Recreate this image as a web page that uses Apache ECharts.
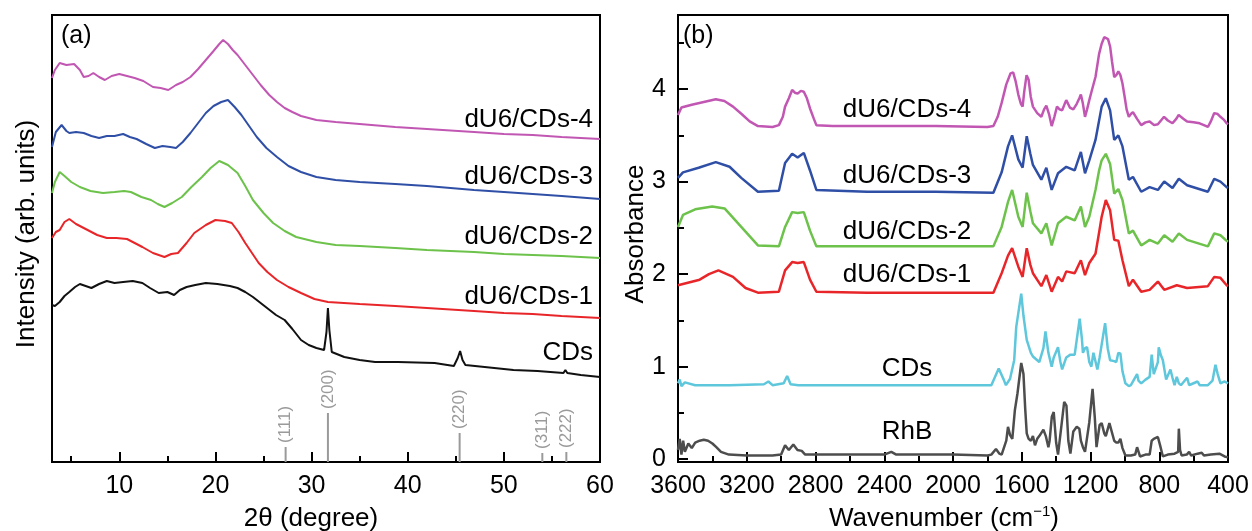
<!DOCTYPE html>
<html>
<head>
<meta charset="utf-8">
<script src="https://cdn.jsdelivr.net/npm/echarts@6/dist/echarts.min.js"></script>
<style>
  html, body { margin: 0; padding: 0; background: #fff; }
  #chart { width: 1252px; height: 531px; }
</style>
</head>
<body>
<div id="chart"></div>
<script>
// (a) XRD, intensity in arbitrary units, offset stacked
const xrdCDs = [[3,157],[3.3,156],[3.8,160],[4.3,166],[4.8,170],[5.4,175],[5.9,178],[6.5,176],[7.1,174],[7.9,178],[8.7,181],[9.5,179],[10.4,180],[11.4,181],[12.4,179],[13.2,174],[14.1,169],[15,170],[15.7,167],[16.3,172],[17,175],[17.9,177],[19,179],[20.2,178],[21.5,176],[22.3,174],[23.1,170],[23.9,165],[24.7,159],[25.5,153],[26.3,147],[27.2,142],[28,133],[28.9,122],[29.7,117],[30.5,114],[31.3,112],[31.55,130],[31.7,154],[31.85,132],[32.1,110],[33.4,105],[35,102],[36.6,100],[39,100],[42.8,99],[44.8,96],[45.2,104],[45.45,111],[45.7,102],[46,97],[48,95],[51,92],[53.5,91],[56.2,89],[56.4,92],[56.6,89],[58,87],[60,85]];
const xrd1 = [[3,224],[3.4,230],[3.8,232],[4.3,240],[4.8,243],[5.5,238],[6.7,232],[7.7,227],[8.7,224],[9.7,224],[10.8,223],[11.6,219],[12.4,215],[13.5,209],[14.7,205],[15.4,208],[16.1,209],[17,219],[17.8,229],[19,237],[20,242],[21,241],[21.7,239],[22.4,230],[23.1,219],[24.5,199],[25.4,190],[26.4,182],[27.6,175],[28.9,169],[30.3,163],[31.7,160],[35,158],[38.7,156],[42,154],[46.9,151],[50,149],[53,148],[56,146],[60,144]];
const xrd2 = [[3,269],[3.3,280],[3.8,290],[4.3,286],[5,280],[5.9,275],[7,271],[8.3,269],[9.5,270],[10.5,271],[11.2,270],[12.3,265],[13.3,262],[14,258],[14.7,255],[15.5,259],[16.5,265],[17.5,275],[18.6,285],[19.5,294],[20.4,301],[21.3,297],[22.3,289],[23.1,276],[23.9,262],[25,249],[26,239],[27.2,231],[28.4,225],[30.5,220],[32.5,217],[35,216],[38.7,214],[42,212],[46.9,210],[50,208],[53,207],[56,206],[60,204]];
const xrd3 = [[3,315],[3.4,330],[4,337],[4.5,331],[4.8,329],[5.5,330],[6.3,329],[7.1,326],[7.9,324],[8.7,326],[9.5,326],[10.4,328],[11.1,325],[11.8,323],[12.8,318],[13.7,314],[14.5,316],[15.3,315],[15.9,314],[16.6,320],[17.4,329],[18.2,339],[19,349],[19.8,356],[20.6,360],[21.3,362],[22,355],[22.7,347],[23.5,336],[24.3,325],[25.3,314],[26.4,305],[27.6,296],[28.9,290],[30.5,285],[32.5,282],[35,280],[38.7,278],[42,276],[46.9,272],[50,270],[53,268],[56,266],[60,263]];
const xrd4 = [[3,384],[3.3,392],[3.8,399],[4.5,397],[5.3,398],[5.9,392],[6.3,385],[6.8,386],[7.3,389],[7.9,385],[8.5,382],[9.2,386],[10,388],[10.8,386],[11.6,384],[12.5,381],[13.5,375],[14.3,374],[15.1,372],[15.9,377],[16.6,380],[17.4,385],[18.2,393],[19,402],[19.8,411],[20.4,418],[20.8,422],[21.3,418],[21.8,412],[22.3,407],[23.1,397],[23.9,387],[24.7,377],[25.6,367],[26.4,360],[27.2,354],[28,350],[28.9,346],[30.5,342],[32.5,340],[35,338],[38.7,335],[42,333],[46.9,330],[50,328],[53,327],[56,325],[60,323]];

// reference reflections (gray sticks)
const refPos = [27.3, 31.7, 45.4, 54.0, 56.5];
const refHeight = [15, 49, 29, 9, 10];
const refLabels = ['(111)', '(200)', '(220)', '(311)', '(222)'];

const xrdMajorTicks = [10, 20, 30, 40, 50, 60];
const xrdMinorTicks = [5, 15, 25, 35, 45, 55];

// (b) FTIR absorbance
const ftirRhB = [[3600,0.10],[3590,0.22],[3580,0.05],[3570,0.20],[3560,0.08],[3540,0.17],[3520,0.12],[3500,0.18],[3474,0.20],[3450,0.21],[3425,0.20],[3400,0.17],[3377,0.13],[3350,0.08],[3304,0.05],[3200,0.04],[3050,0.04],[3000,0.05],[2977,0.15],[2955,0.10],[2929,0.16],[2905,0.10],[2880,0.09],[2860,0.05],[2800,0.05],[2400,0.05],[2359,0.08],[2330,0.05],[2000,0.05],[1800,0.04],[1777,0.05],[1750,0.11],[1730,0.06],[1717,0.05],[1690,0.20],[1680,0.35],[1668,0.26],[1655,0.22],[1640,0.53],[1625,0.71],[1603,1.04],[1590,0.92],[1580,0.55],[1571,0.28],[1560,0.22],[1547,0.20],[1535,0.25],[1523,0.15],[1510,0.22],[1498,0.25],[1474,0.32],[1460,0.25],[1445,0.13],[1438,0.20],[1425,0.46],[1414,0.51],[1400,0.18],[1389,0.05],[1370,0.35],[1353,0.62],[1340,0.58],[1329,0.20],[1317,0.06],[1300,0.30],[1280,0.35],[1265,0.33],[1256,0.20],[1244,0.13],[1232,0.08],[1207,0.40],[1188,0.76],[1175,0.45],[1165,0.13],[1159,0.14],[1147,0.37],[1135,0.39],[1120,0.28],[1111,0.25],[1090,0.39],[1079,0.37],[1062,0.20],[1050,0.18],[1038,0.18],[1026,0.22],[1014,0.12],[997,0.04],[965,0.04],[940,0.05],[929,0.13],[912,0.03],[880,0.05],[856,0.05],[844,0.20],[832,0.22],[820,0.23],[808,0.24],[795,0.15],[779,0.03],[750,0.05],[711,0.06],[690,0.08],[686,0.33],[679,0.10],[670,0.04],[640,0.05],[626,0.08],[614,0.04],[577,0.06],[553,0.07],[540,0.04],[500,0.05],[450,0.06],[420,0.03],[400,0.02]];
const ftirCDs = [[3600,0.82],[3590,0.86],[3580,0.79],[3560,0.83],[3500,0.80],[3300,0.80],[3100,0.81],[3074,0.84],[3050,0.80],[2985,0.82],[2965,0.90],[2945,0.81],[2900,0.80],[2500,0.80],[2100,0.80],[1777,0.80],[1734,0.98],[1705,0.86],[1692,0.80],[1668,0.87],[1644,1.07],[1632,1.43],[1603,1.79],[1590,1.55],[1571,1.29],[1547,1.15],[1535,1.11],[1498,1.05],[1474,1.20],[1462,1.38],[1445,1.15],[1426,1.00],[1414,1.10],[1389,1.21],[1375,1.05],[1365,0.97],[1341,1.10],[1317,1.13],[1292,1.13],[1263,1.52],[1250,1.30],[1244,1.15],[1232,1.20],[1220,1.21],[1207,1.05],[1195,1.00],[1183,1.15],[1160,0.97],[1147,1.10],[1115,1.47],[1100,1.20],[1086,1.07],[1062,1.06],[1050,1.05],[1038,1.15],[1026,1.14],[1014,0.95],[997,0.82],[977,0.79],[965,0.80],[929,0.92],[921,0.85],[905,0.82],[880,0.86],[856,0.89],[844,1.13],[832,0.92],[808,1.05],[803,1.21],[790,1.12],[779,1.07],[760,0.86],[735,0.97],[723,0.88],[711,0.80],[698,0.89],[686,0.82],[674,0.80],[638,0.88],[626,0.80],[614,0.81],[577,0.84],[565,0.80],[517,0.80],[490,0.85],[473,1.02],[460,0.92],[444,0.82],[420,0.84],[400,0.82]];
const ftir1 = [[3600,1.88],[3474,1.94],[3420,2.00],[3365,2.04],[3280,1.97],[3207,1.85],[3135,1.80],[3013,1.81],[2977,2.04],[2936,2.13],[2904,2.12],[2868,2.13],[2832,1.94],[2795,1.81],[2500,1.80],[2100,1.80],[1765,1.80],[1717,2.01],[1680,2.20],[1656,2.28],[1620,2.08],[1595,1.97],[1571,2.28],[1550,2.10],[1535,2.01],[1486,1.87],[1457,1.99],[1426,1.81],[1389,1.97],[1365,1.92],[1341,2.03],[1292,2.01],[1256,2.15],[1232,1.99],[1207,2.12],[1171,2.22],[1150,2.45],[1135,2.62],[1111,2.80],[1086,2.69],[1062,2.37],[1038,2.36],[1014,2.15],[977,1.87],[953,1.94],[905,1.81],[856,1.83],[808,1.92],[771,1.83],[698,1.88],[638,1.85],[517,1.87],[480,1.97],[444,1.96],[408,1.88],[400,1.87]];
const ftir2 = [[3600,2.51],[3571,2.64],[3500,2.70],[3401,2.73],[3329,2.71],[3232,2.51],[3135,2.31],[3013,2.30],[2977,2.51],[2936,2.67],[2904,2.66],[2868,2.67],[2832,2.47],[2795,2.30],[2500,2.30],[2100,2.30],[1765,2.30],[1717,2.51],[1680,2.78],[1656,2.91],[1620,2.62],[1595,2.51],[1571,2.88],[1550,2.68],[1535,2.55],[1486,2.44],[1457,2.55],[1426,2.31],[1389,2.55],[1341,2.62],[1292,2.58],[1256,2.73],[1232,2.51],[1207,2.62],[1171,2.91],[1150,3.12],[1135,3.23],[1111,3.30],[1086,3.19],[1062,2.87],[1038,2.92],[1014,2.80],[977,2.44],[953,2.47],[905,2.31],[856,2.37],[808,2.33],[771,2.42],[723,2.35],[686,2.44],[638,2.37],[517,2.30],[480,2.44],[444,2.42],[408,2.36],[400,2.35]];
const ftir3 = [[3600,3.04],[3571,3.10],[3480,3.15],[3380,3.21],[3300,3.16],[3232,3.04],[3135,2.89],[3013,2.90],[2977,3.20],[2936,3.30],[2904,3.26],[2868,3.31],[2832,3.12],[2795,2.91],[2500,2.89],[2100,2.89],[1765,2.88],[1717,3.10],[1680,3.38],[1656,3.50],[1620,3.24],[1595,3.15],[1571,3.49],[1550,3.30],[1535,3.18],[1486,3.02],[1457,3.15],[1426,2.91],[1389,3.09],[1341,3.16],[1292,3.12],[1256,3.32],[1232,3.09],[1207,3.23],[1171,3.45],[1135,3.81],[1111,3.90],[1086,3.77],[1062,3.45],[1038,3.50],[1014,3.38],[977,3.02],[953,3.05],[905,2.89],[856,2.94],[808,2.91],[771,3.00],[723,2.93],[686,3.03],[638,2.96],[517,2.89],[480,3.03],[444,3.00],[408,2.94],[400,2.93]];
const ftir4 = [[3600,3.72],[3580,3.80],[3520,3.83],[3450,3.86],[3380,3.89],[3330,3.87],[3280,3.81],[3230,3.73],[3183,3.65],[3135,3.60],[3050,3.59],[3013,3.61],[2990,3.70],[2977,3.81],[2955,3.90],[2936,3.99],[2920,3.96],[2904,3.95],[2885,3.98],[2868,3.97],[2850,3.90],[2832,3.79],[2810,3.68],[2795,3.61],[2700,3.60],[2400,3.60],[2100,3.60],[1800,3.59],[1765,3.60],[1740,3.70],[1717,3.85],[1690,4.05],[1665,4.17],[1650,4.18],[1635,4.08],[1620,3.94],[1605,3.84],[1595,3.81],[1585,3.98],[1572,4.15],[1560,4.10],[1548,3.92],[1535,3.81],[1510,3.74],[1486,3.70],[1470,3.78],[1457,3.82],[1440,3.72],[1426,3.60],[1410,3.70],[1395,3.81],[1380,3.78],[1365,3.77],[1350,3.84],[1341,3.88],[1320,3.80],[1300,3.78],[1280,3.84],[1265,3.90],[1256,3.94],[1245,3.85],[1232,3.70],[1220,3.78],[1207,3.88],[1190,4.00],[1171,4.13],[1150,4.38],[1135,4.49],[1120,4.56],[1110,4.58],[1098,4.54],[1086,4.46],[1075,4.30],[1062,4.13],[1050,4.15],[1038,4.19],[1026,4.15],[1014,4.06],[1000,3.90],[990,3.78],[977,3.70],[965,3.73],[953,3.75],[930,3.68],[905,3.61],[880,3.64],[856,3.65],[830,3.61],[808,3.62],[790,3.66],[772,3.70],[750,3.66],[723,3.63],[700,3.68],[687,3.72],[660,3.68],[638,3.65],[600,3.64],[565,3.63],[540,3.61],[517,3.59],[500,3.65],[480,3.74],[460,3.73],[444,3.70],[425,3.67],[408,3.63],[400,3.62]];

const ftirMajorTicks = [3600, 3200, 2800, 2400, 2000, 1600, 1200, 800, 400];
const ftirMinorTicks = [3400, 3000, 2600, 2200, 1800, 1400, 1000, 600];
const absMajorTicks = [0, 1, 2, 3, 4];
const absMinorTicks = [0.5, 1.5, 2.5, 3.5, 4.5];

const FONT = '"Liberation Sans", Arial, sans-serif';
const C = {
  k: '#111111', red: '#e8262a', green: '#6cc24a', blue: '#2f4fa6',
  mag: '#c157b3', cyan: '#5ec7dc', rhb: '#4d4d4d', ref: '#9a9a9a'
};

const chart = echarts.init(document.getElementById('chart'));

function line(data, color, xi, yi, w) {
  return {
    type: 'line', data: data, xAxisIndex: xi, yAxisIndex: yi,
    showSymbol: false, symbol: 'none', silent: true,
    lineStyle: { color: color, width: w }, itemStyle: { color: color },
    z: 3
  };
}

function majorAxis(grid, min, max, ticks, labels, inverse) {
  return {
    gridIndex: grid, type: 'value', min: min, max: max, inverse: !!inverse,
    axisLine: { show: true, onZero: false, lineStyle: { color: '#000', width: 2 } },
    axisTick: { show: true, inside: true, length: 10, customValues: ticks, lineStyle: { color: '#000', width: 2 } },
    axisLabel: {
      show: !!labels, customValues: labels || [], color: '#000', fontSize: 25,
      fontFamily: FONT, margin: 12, formatter: v => String(v)
    },
    splitLine: { show: false }
  };
}

function minorAxis(grid, min, max, ticks, pos, inverse) {
  return {
    gridIndex: grid, type: 'value', min: min, max: max, inverse: !!inverse, position: pos,
    axisLine: { show: false, onZero: false },
    axisTick: { show: true, inside: true, length: 6, customValues: ticks, lineStyle: { color: '#000', width: 2 } },
    axisLabel: { show: false },
    splitLine: { show: false }
  };
}

function txt(text, x, y, align, size, rot) {
  return {
    type: 'text', x: x, y: y, rotation: rot || 0, silent: true,
    style: {
      text: text, fill: '#000', font: size + 'px ' + FONT,
      fontSize: size, fontFamily: FONT, align: align, verticalAlign: 'middle'
    }
  };
}

const option = {
  animation: false,
  backgroundColor: '#fff',
  grid: [
    { left: 52, top: 15, width: 548, height: 447, show: true, borderColor: '#000', borderWidth: 2, backgroundColor: 'transparent' },
    { left: 678, top: 15, width: 550, height: 447, show: true, borderColor: '#000', borderWidth: 2, backgroundColor: 'transparent' }
  ],
  xAxis: [
    majorAxis(0, 3, 60, xrdMajorTicks, xrdMajorTicks),
    minorAxis(0, 3, 60, xrdMinorTicks, 'bottom'),
    majorAxis(1, 400, 3600, ftirMajorTicks, ftirMajorTicks, true),
    minorAxis(1, 400, 3600, ftirMinorTicks, 'bottom', true)
  ],
  yAxis: [
    {
      gridIndex: 0, type: 'value', min: 0, max: 447,
      axisLine: { show: true, lineStyle: { color: '#000', width: 2 } },
      axisTick: { show: false }, axisLabel: { show: false }, splitLine: { show: false }
    },
    majorAxis(1, -0.03, 4.8, absMajorTicks, absMajorTicks),
    minorAxis(1, -0.03, 4.8, absMinorTicks, 'left')
  ],
  series: [
    {
      type: 'custom', xAxisIndex: 0, yAxisIndex: 0, silent: true, z: 2,
      data: refPos.map((x, i) => [x, refHeight[i]]),
      renderItem: function (params, api) {
        const base = api.coord([api.value(0), 0]);
        const top = api.coord([api.value(0), api.value(1)]);
        return {
          type: 'group',
          children: [
            { type: 'line', shape: { x1: base[0], y1: base[1], x2: top[0], y2: top[1] },
              style: { stroke: C.ref, lineWidth: 2 } },
            { type: 'text', x: top[0], y: top[1] - 4, rotation: Math.PI / 2,
              style: { text: refLabels[params.dataIndex], fill: C.ref, fontSize: 17,
                       fontFamily: FONT, align: 'left', verticalAlign: 'middle' } }
          ]
        };
      }
    },
    line(xrdCDs, C.k, 0, 0, 2),
    line(xrd1, C.red, 0, 0, 2),
    line(xrd2, C.green, 0, 0, 2),
    line(xrd3, C.blue, 0, 0, 2),
    line(xrd4, C.mag, 0, 0, 2),
    line(ftirRhB, C.rhb, 2, 1, 2.5),
    line(ftirCDs, C.cyan, 2, 1, 2.5),
    line(ftir1, C.red, 2, 1, 2.5),
    line(ftir2, C.green, 2, 1, 2.5),
    line(ftir3, C.blue, 2, 1, 2.5),
    line(ftir4, C.mag, 2, 1, 2.5)
  ],
  graphic: [
    txt('(a)', 61, 36, 'left', 25),
    txt('(b)', 683, 36, 'left', 25),
    txt('dU6/CDs-4', 593, 120, 'right', 26),
    txt('dU6/CDs-3', 593, 177, 'right', 26),
    txt('dU6/CDs-2', 593, 237, 'right', 26),
    txt('dU6/CDs-1', 593, 297, 'right', 26),
    txt('CDs', 593, 353, 'right', 26),
    txt('dU6/CDs-4', 907, 110, 'center', 26),
    txt('dU6/CDs-3', 907, 176, 'center', 26),
    txt('dU6/CDs-2', 907, 232, 'center', 26),
    txt('dU6/CDs-1', 907, 275, 'center', 26),
    txt('CDs', 907, 369, 'center', 26),
    txt('RhB', 907, 432, 'center', 26),
    txt('2θ (degree)', 311, 519, 'center', 26),
    txt('Intensity (arb. units)', 27, 234, 'center', 26, Math.PI / 2),
    txt('Absorbance', 636, 234, 'center', 26, Math.PI / 2),
    {
      type: 'text', x: 944, y: 519, silent: true,
      style: {
        text: 'Wavenumber (cm{sup|−1})', fill: '#000', fontSize: 26, fontFamily: FONT,
        align: 'center', verticalAlign: 'middle',
        rich: { sup: { fontSize: 15, fontFamily: FONT, fill: '#000', padding: [0, 0, 14, 0] } }
      }
    }
  ]
};

chart.setOption(option);
</script>
</body>
</html>
